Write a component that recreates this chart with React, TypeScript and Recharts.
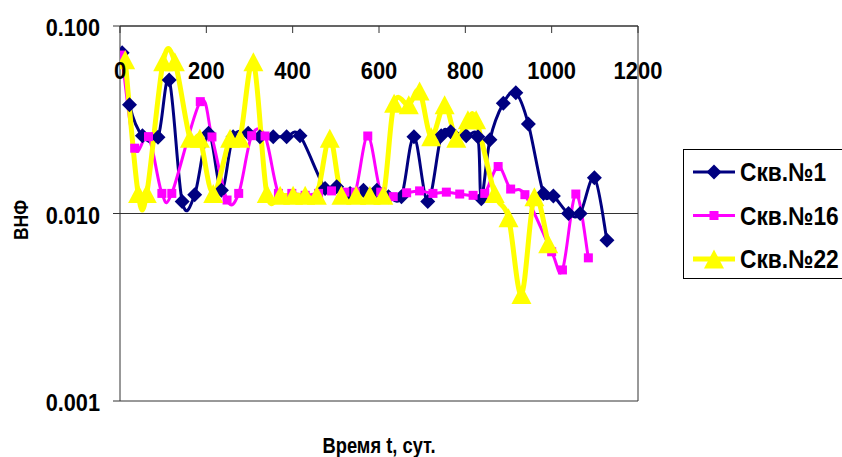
import React from 'react'
import {
  LineChart,
  Line,
  XAxis,
  YAxis,
  CartesianGrid,
  ReferenceLine,
  Legend,
} from 'recharts'

// Скв.№1
const days1 = [5, 22, 52, 88, 114, 144, 173, 205, 235, 262, 297, 324, 355, 386, 417, 475, 502, 533, 564, 595, 622, 652, 681, 713, 744, 766, 802, 829, 837, 857, 888, 917, 946, 981, 1004, 1039, 1066, 1099, 1128]
const vnf1 = [0.072, 0.038, 0.026, 0.0255, 0.0515, 0.0116, 0.0126, 0.0268, 0.0133, 0.0257, 0.0268, 0.0257, 0.0257, 0.0257, 0.026, 0.0136, 0.0139, 0.0128, 0.0133, 0.0133, 0.0123, 0.0123, 0.0257, 0.0116, 0.026, 0.0273, 0.026, 0.0257, 0.012, 0.0247, 0.0387, 0.044, 0.03, 0.0128, 0.0124, 0.01, 0.01, 0.0155, 0.0072]

// Скв.№16
const days16 = [4, 34, 66, 97, 120, 186, 213, 248, 275, 305, 336, 367, 398, 429, 460, 490, 521, 545, 574, 604, 633, 664, 694, 725, 756, 787, 818, 845, 876, 905, 938, 1000, 1025, 1056, 1085]
const vnf16 = [0.07, 0.0223, 0.0257, 0.0128, 0.0128, 0.0395, 0.0256, 0.0118, 0.0128, 0.026, 0.0259, 0.0128, 0.0128, 0.0125, 0.0128, 0.0132, 0.013, 0.013, 0.0259, 0.013, 0.0123, 0.0129, 0.0132, 0.0128, 0.013, 0.0127, 0.0125, 0.0128, 0.0178, 0.0135, 0.0126, 0.00625, 0.005, 0.0127, 0.0058]

// Скв.№22
const days22 = [12, 42, 62, 100, 127, 162, 185, 216, 255, 278, 309, 340, 371, 401, 429, 456, 486, 513, 547, 579, 610, 635, 669, 694, 721, 752, 779, 806, 825, 868, 900, 930, 960, 992]
const vnf22 = [0.066, 0.0128, 0.0128, 0.0645, 0.0645, 0.0252, 0.0252, 0.0128, 0.0252, 0.0252, 0.0645, 0.0128, 0.0125, 0.0125, 0.0125, 0.0125, 0.0252, 0.0125, 0.0125, 0.0125, 0.0125, 0.0387, 0.038, 0.045, 0.0257, 0.038, 0.0252, 0.0316, 0.0316, 0.0128, 0.0095, 0.0037, 0.0123, 0.0069]

const xTicks = [0, 200, 400, 600, 800, 1000, 1200]
const yTicks = [0.001, 0.01, 0.1]

const toRows = (xs: number[], ys: number[]) => xs.map((x, i) => ({ x, y: ys[i] }))

const FONT = "'Liberation Sans', Arial, sans-serif"

// the original text looks like a narrow bold face: squeeze Arial bold a bit
const squeezed = (s: string, perDigit: number) =>
  s.split('').reduce((w, c) => w + (c === '.' ? perDigit * 0.45 : perDigit), 0)

// Excel-style smoothed line (Catmull-Rom through the points)
function smoothCurve(context: any) {
  let pts: number[][] = []
  return {
    areaStart() {},
    areaEnd() {},
    lineStart() {
      pts = []
    },
    point(x: number, y: number) {
      pts.push([+x, +y])
    },
    lineEnd() {
      const n = pts.length
      if (!n) return
      context.moveTo(pts[0][0], pts[0][1])
      for (let i = 0; i < n - 1; i++) {
        const p0 = pts[i - 1] || pts[i]
        const p1 = pts[i]
        const p2 = pts[i + 1]
        const p3 = pts[i + 2] || p2
        context.bezierCurveTo(
          p1[0] + (p2[0] - p0[0]) / 6,
          p1[1] + (p2[1] - p0[1]) / 6,
          p2[0] - (p3[0] - p1[0]) / 6,
          p2[1] - (p3[1] - p1[1]) / 6,
          p2[0],
          p2[1]
        )
      }
    },
  }
}

const diamond = (cx: number, cy: number, r: number) =>
  `M${cx},${cy - r}L${cx + r},${cy}L${cx},${cy + r}L${cx - r},${cy}Z`
const triangle = (cx: number, cy: number, w: number, h: number) =>
  `M${cx},${cy - h / 2}L${cx + w / 2},${cy + h / 2}L${cx - w / 2},${cy + h / 2}Z`

const series = [
  { name: 'Скв.№1', data: toRows(days1, vnf1), color: '#000080', width: 3, marker: 'diamond' },
  { name: 'Скв.№16', data: toRows(days16, vnf16), color: '#FF00FF', width: 3, marker: 'square' },
  { name: 'Скв.№22', data: toRows(days22, vnf22), color: '#FFFF00', width: 5, marker: 'triangle' },
]

function marker(kind: string, cx: number, cy: number, color: string, key?: string) {
  if (kind === 'diamond') return <path key={key} d={diamond(cx, cy, 7.5)} fill={color} />
  if (kind === 'square') return <rect key={key} x={cx - 4.5} y={cy - 4.5} width={9} height={9} fill={color} />
  return <path key={key} d={triangle(cx, cy, 20, 19)} fill={color} />
}

const renderLegend = () => (
  <div style={{ width: 158, height: 128, border: '1px solid #000', background: '#fff' }}>
    <svg width={158} height={128} style={{ display: 'block' }}>
      {series.map((s, i) => {
        const cy = 22 + i * 43.5
        return (
          <g key={s.name}>
            <line x1={9} y1={cy} x2={51} y2={cy} stroke={s.color} strokeWidth={s.width} />
            {marker(s.marker, 30, cy, s.color)}
            <g transform={`translate(56 ${cy}) scale(0.875 1)`}>
              <text x={0} y={0} dy="0.36em" fontFamily={FONT} fontWeight="bold" fontSize={26} fill="#000">
                {s.name}
              </text>
            </g>
          </g>
        )
      })}
    </svg>
  </div>
)

const YTick = (p: any) => {
  const label = p.payload.value.toFixed(3)
  return (
    <text
      x={p.x}
      y={p.y + 2}
      dy="0.36em"
      textAnchor="end"
      fontFamily={FONT}
      fontWeight="bold"
      fontSize={23}
      fill="#000"
      textLength={squeezed(label, 12.2)}
      lengthAdjust="spacingAndGlyphs"
    >
      {label}
    </text>
  )
}

const XTick = (p: any) => {
  const label = String(p.payload.value)
  return (
    <text
      x={p.x}
      y={p.y}
      dy="0.72em"
      textAnchor="middle"
      fontFamily={FONT}
      fontWeight="bold"
      fontSize={23}
      fill="#000"
      textLength={squeezed(label, 12.2)}
      lengthAdjust="spacingAndGlyphs"
    >
      {label}
    </text>
  )
}

export default function App() {
  return (
    <div style={{ position: 'absolute', left: 0, top: 0, width: 842, height: 457, overflow: 'hidden', background: '#fff' }}>
      <LineChart width={842} height={457} margin={{ top: 26, right: 204, bottom: 56, left: 0 }}>
        <CartesianGrid vertical={false} stroke="#333" strokeWidth={1} />
        <YAxis
          type="number"
          scale="log"
          domain={[0.001, 0.1]}
          ticks={yTicks}
          allowDataOverflow
          width={120}
          tickSize={7}
          tickMargin={13}
          stroke="#333"
          tick={YTick}
          label={{
            content: () => (
              <text
                x={21}
                y={220}
                transform="rotate(-90 21 220)"
                textAnchor="middle"
                dominantBaseline="central"
                fontSize={20}
                fontWeight="bold"
                fontFamily={FONT}
                fill="#000"
                textLength={40}
                lengthAdjust="spacingAndGlyphs"
              >
                ВНФ
              </text>
            ),
          }}
        />
        <ReferenceLine x={1200} stroke="#333" strokeWidth={1} ifOverflow="extendDomain" />
        {series.map((s) => (
          <Line
            key={s.name}
            data={s.data}
            dataKey="y"
            name={s.name}
            type={smoothCurve as any}
            stroke={s.color}
            strokeWidth={s.width}
            isAnimationActive={false}
            dot={(p: any) => marker(s.marker, p.cx, p.cy, s.color, `${s.name}-${p.index}`)}
            activeDot={false}
          />
        ))}
        <XAxis
          type="number"
          dataKey="x"
          domain={[0, 1200]}
          ticks={xTicks}
          allowDataOverflow
          orientation="top"
          mirror
          tickSize={7}
          tickMargin={29}
          stroke="#333"
          tick={XTick}
          interval={0}
          label={{
            content: (p: any) => {
              const vb = p.viewBox || { x: 120, width: 518 }
              return (
                <text
                  x={vb.x + vb.width / 2}
                  y={453}
                  textAnchor="middle"
                  fontSize={22}
                  fontWeight="bold"
                  fontFamily={FONT}
                  fill="#000"
                  textLength={113}
                  lengthAdjust="spacingAndGlyphs"
                >
                  Время t, сут.
                </text>
              )
            },
          }}
        />
        <Legend
          layout="vertical"
          align="center"
          verticalAlign="middle"
          content={renderLegend}
          wrapperStyle={{ left: 683, top: 149, width: 160 }}
        />
      </LineChart>
    </div>
  )
}
